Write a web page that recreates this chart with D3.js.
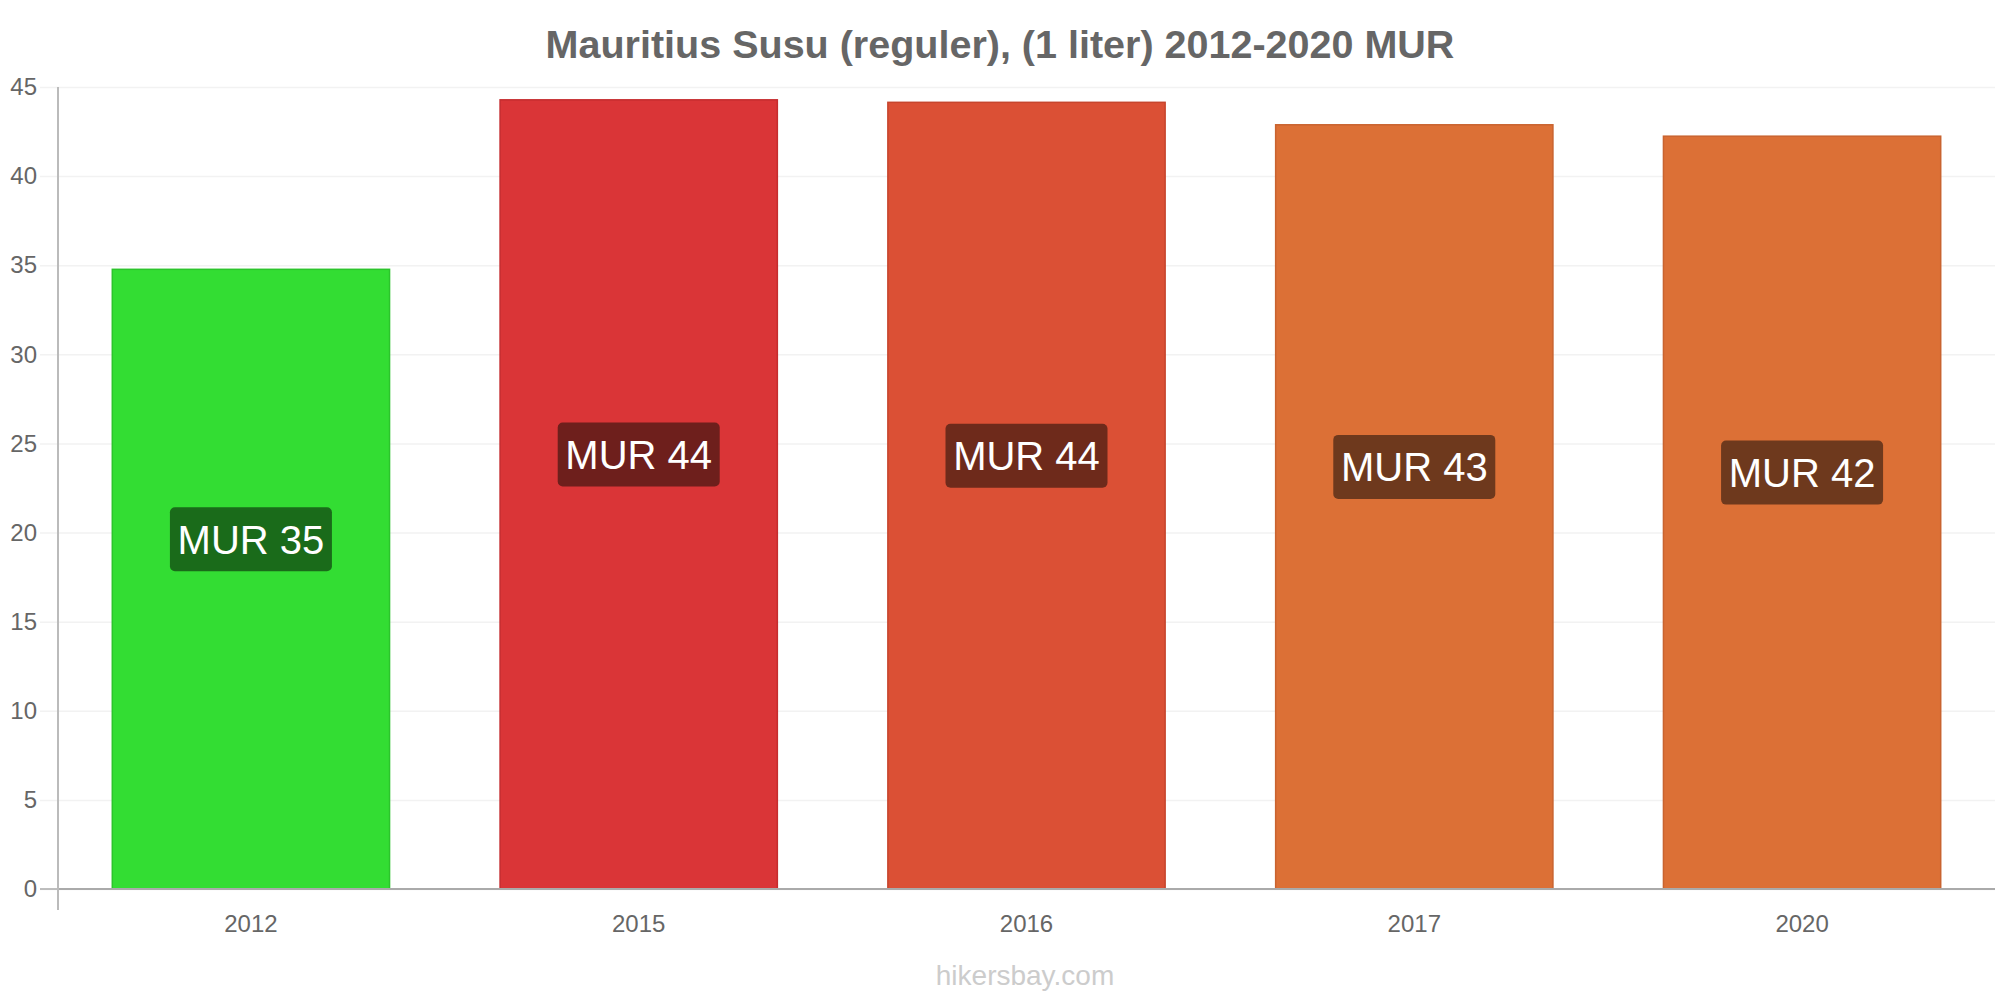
<!DOCTYPE html>
<html>
<head>
<meta charset="utf-8">
<script src="https://cdn.jsdelivr.net/npm/d3@7"></script>
<style>
	body { margin: 0; background: #fff; }
	svg { display: block; font-family: "Liberation Sans", Arial, sans-serif; }
</style>
</head>
<body>
<div id="chart"></div>
<script>
/////////////////
// "CONSTANTS" //
/////////////////
var WIDTH = 2000;
var HEIGHT = 1000;
var PLOT_LEFT = 58;
var PLOT_RIGHT = 1995;
var PLOT_TOP = 87;
var PLOT_BOTTOM = 889;
var TEXT_COLOR = "#666";

//////////
// DATA //
//////////
var TITLE = "Mauritius Susu (reguler), (1 liter) 2012-2020 MUR";
var years = ["2012", "2015", "2016", "2017", "2020"];
var prices = [34.77, 44.28, 44.14, 42.88, 42.24];
var priceLabels = ["MUR 35", "MUR 44", "MUR 44", "MUR 43", "MUR 42"];
var barColors = ["#33dd33", "#da3537", "#db5035", "#dc7036", "#dc7036"];
var barStrokes = ["#2cc42c", "#c52c2e", "#c7452d", "#c9632f", "#c9632f"];
var labelColors = ["#1a6b1a", "#6e1f1c", "#6e2a1b", "#6e391d", "#6e391d"];
var yTicks = [0, 5, 10, 15, 20, 25, 30, 35, 40, 45];

///////////////
// FUNCTIONS //
///////////////
var svg = d3.select("#chart")
	.append("svg")
	.attr("width", WIDTH)
	.attr("height", HEIGHT);

var x = d3.scaleBand()
	.domain(years)
	.range([PLOT_LEFT, PLOT_RIGHT])
	.paddingInner(0.285)
	.paddingOuter(0.14);

var y = d3.scaleLinear()
	.domain([0, 45])
	.range([PLOT_BOTTOM, PLOT_TOP]);

// title
svg.append("text")
	.attr("x", WIDTH / 2)
	.attr("y", 58)
	.attr("text-anchor", "middle")
	.attr("font-size", 39.5)
	.attr("font-weight", "bold")
	.attr("fill", TEXT_COLOR)
	.text(TITLE);

// gridlines + y labels
var yAxis = d3.axisLeft(y)
	.tickValues(yTicks)
	.tickSize(PLOT_RIGHT - 40)
	.tickPadding(3);
var yAxisG = svg.append("g")
	.attr("transform", "translate(" + PLOT_RIGHT + ",0)")
	.call(yAxis);
yAxisG.select(".domain").remove();
yAxisG.selectAll(".tick line")
	.attr("stroke", "#f2f2f2")
	.attr("stroke-width", 1.5);
yAxisG.selectAll(".tick text")
	.attr("fill", TEXT_COLOR)
	.attr("font-size", 24)
	.attr("font-family", "Liberation Sans, Arial, sans-serif");

// zero tick mark
svg.append("line")
	.attr("x1", 40)
	.attr("x2", PLOT_LEFT)
	.attr("y1", y(0))
	.attr("y2", y(0))
	.attr("stroke", "#aaa")
	.attr("stroke-width", 1.5);

// bars
svg.append("g")
	.selectAll("rect")
	.data(years)
	.join("rect")
	.attr("x", function(d) { return x(d); })
	.attr("y", function(d, i) { return y(prices[i]); })
	.attr("width", x.bandwidth())
	.attr("height", function(d, i) { return y(0) - y(prices[i]); })
	.attr("fill", function(d, i) { return barColors[i]; })
	.attr("stroke", function(d, i) { return barStrokes[i]; })
	.attr("stroke-width", 1.5);

// axes lines
svg.append("line")
	.attr("x1", PLOT_LEFT)
	.attr("x2", PLOT_RIGHT)
	.attr("y1", y(0))
	.attr("y2", y(0))
	.attr("stroke", "#aaa")
	.attr("stroke-width", 2);
svg.append("line")
	.attr("x1", PLOT_LEFT)
	.attr("x2", PLOT_LEFT)
	.attr("y1", PLOT_TOP)
	.attr("y2", 910)
	.attr("stroke", "#bbb")
	.attr("stroke-width", 2);

// x labels
var xAxisG = svg.append("g")
	.attr("transform", "translate(0," + y(0) + ")")
	.call(d3.axisBottom(x).tickSize(0).tickPadding(26));
xAxisG.select(".domain").remove();
xAxisG.selectAll(".tick text")
	.attr("fill", TEXT_COLOR)
	.attr("font-size", 24)
	.attr("font-family", "Liberation Sans, Arial, sans-serif");

// value labels
var labels = svg.append("g")
	.selectAll("g")
	.data(years)
	.join("g")
	.attr("transform", function(d, i) {
		return "translate(" + (x(d) + x.bandwidth() / 2) + "," + (y(prices[i] / 2) - 40) + ")";
	});
labels.append("rect")
	.attr("x", -81)
	.attr("y", -32)
	.attr("width", 162)
	.attr("height", 64)
	.attr("rx", 5)
	.attr("fill", function(d, i) { return labelColors[i]; });
labels.append("text")
	.attr("text-anchor", "middle")
	.attr("dy", "0.36em")
	.attr("font-size", 40)
	.attr("fill", "#fff")
	.text(function(d, i) { return priceLabels[i]; });

// watermark
svg.append("text")
	.attr("x", 1025)
	.attr("y", 985)
	.attr("text-anchor", "middle")
	.attr("font-size", 28)
	.attr("fill", "#ccc")
	.text("hikersbay.com");
</script>
</body>
</html>
